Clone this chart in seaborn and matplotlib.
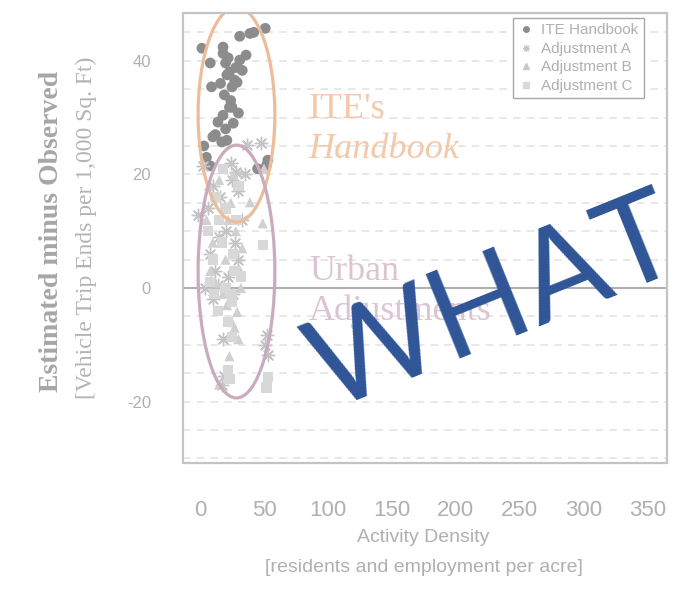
import numpy as np
import pandas as pd
import matplotlib
matplotlib.use("Agg")
import matplotlib.pyplot as plt
import seaborn as sns
from matplotlib.patches import Ellipse, Rectangle
from matplotlib.lines import Line2D

# ---------------------------------------------------
# data
# ---------------------------------------------------
ite_x = [1.5, 8, 9, 18, 18, 20, 21, 23, 25, 27, 29, 31, 33, 31, 39, 42, 51, 25, 23, 18,
         30, 14, 26, 10, 17, 21, 53, 52, 22, 24, 20, 12, 19, 28, 16, 5, 8, 45, 3, 36]
ite_y = [42.2, 39.6, 35.4, 42.4, 41.3, 39.6, 37.5, 38, 35.4, 36.6, 36.2, 40.1, 38.3, 44.3,
         44.8, 45, 45.7, 31.8, 31.8, 30.4, 30.8, 29.2, 29, 26.6, 25.7, 26, 22.5, 21.6, 40.5,
         33, 28, 27, 34, 38.8, 36, 23, 21.5, 21, 25, 41]

adj_a_x = [37, 48, 51, 53, 52, 17, 19, 4, 14, -1.5, 2, 10, 25, 28, 30, 15, 8, 22, 12, 20,
           26, 33, 6, 24, 18, 30, 10, 35, 16, 27]
adj_a_y = [25.2, 25.5, -10, -11.8, -8.3, -17, -15.5, 0, 0.5, 12.8, 21.5, 18, 19, 20.5, 17,
           9, 6, 2, 3, 10, -1, 12, 14, 22, -9, 5, -2, 20, 16, 8]

adj_b_x = [49, 39, 31, 29, 25, 27, 50, 10, 20, 22, 15, 5, 28, 18, 24, 32, 12, 26, 8, 21,
           30, 15, 33, 7, 23]
adj_b_y = [11.4, 15.1, 3.2, -4.2, -6, -7, 21, 8, 5, 12, 19, 12, 10, -1, 15, 0, 1, 20, 3,
           -3, -9, -17, 7, 18, -12]

adj_c_x = [49, 53, 25, 22, 25, 23, 52, 10, 15, 20, 27, 17, 30, 12, 22, 8, 18, 28, 24, 14,
           32, 20, 6, 26, 11]
adj_c_y = [7.6, -15.7, -8.6, -14.4, -2.5, -16, -17.5, 5, 12, 0, 3, 8, 18, 16, -6, 1, 21, 12,
           -1, -4, 2, 14, 10, 6, -1]

series_labels = ["ITE Handbook", "Adjustment A", "Adjustment B", "Adjustment C"]
x_ticks = [0, 50, 100, 150, 200, 250, 300, 350]
y_ticks = [-20, 0, 20, 40]

# ---------------------------------------------------
# figure
# ---------------------------------------------------
sns.set_style("white")
plt.rcParams['font.family'] = ['Liberation Sans', 'DejaVu Sans']

fig = plt.figure(figsize=(6.91, 5.92), dpi=100)
fig.patch.set_facecolor("white")
ax = fig.add_axes([183 / 691, 129 / 592, 484 / 691, 450 / 592])

# dashed horizontal grid + zero line
for gy in np.arange(-30, 46, 5):
    ax.axhline(gy, color="#e2e2e2", lw=1.1, ls=(0, (5, 4)), zorder=0)
ax.axhline(0, color="#b0b0b0", lw=1.5, zorder=1)

point_styles = [
    (ite_x, ite_y, "o", "#8c8c8c", 60),
    (adj_a_x, adj_a_y, (8, 2, 0), "#c4c4c4", 80),
    (adj_b_x, adj_b_y, "^", "#d0d0d0", 55),
    (adj_c_x, adj_c_y, "s", "#d8d8d8", 55),
]
for xs, ys, mk, col, size in point_styles:
    if mk == (8, 2, 0):
        sns.scatterplot(x=xs, y=ys, ax=ax, marker=mk, color=col, s=size,
                        linewidth=1.0, legend=False, zorder=2)
    else:
        sns.scatterplot(x=xs, y=ys, ax=ax, marker=mk, color=col, s=size,
                        edgecolor="none", legend=False, zorder=2)

# highlight ellipses
ax.add_patch(Ellipse((28.5, 30.5), 60, 37.8, fill=False, ec="#ebbd9a", lw=2.3, zorder=3))
ax.add_patch(Ellipse((28.5, 2.9), 60, 44.5, fill=False, ec="#c9abbb", lw=2.3, zorder=3))

ax.text(85, 30, "ITE's", family="Liberation Serif", fontsize=26, color="#f3c9a9")
ax.text(85, 22.9, "Handbook", family="Liberation Serif", style="italic",
        fontsize=26, color="#f3c9a9")
ax.text(85, 1.4, "Urban", family="Liberation Serif", fontsize=26, color="#dcc4d0")
ax.text(85, -5.6, "Adjustments", family="Liberation Serif", fontsize=26, color="#dcc4d0")

ax.set_xlim(-13.3, 365)
ax.set_ylim(-30.8, 48.4)
ax.set_xticks(x_ticks)
ax.set_yticks(y_ticks)
ax.set_yticklabels([str(v) for v in y_ticks], rotation=90, va="center")

for side in ["left", "bottom"]:
    ax.spines[side].set_position(("outward", 3))
for s in ax.spines.values():
    s.set_visible(False)
ax.add_patch(Rectangle((0, 0), 1, 1, transform=ax.transAxes, fill=False,
                       ec="#c4c4c4", lw=1.6, clip_on=False, zorder=5))

ax.tick_params(axis="both", direction="out", length=8, width=1.1, color="#bcbcbc",
               labelcolor="#b0b0b0")
ax.tick_params(axis="x", labelsize=16, pad=16)
ax.tick_params(axis="y", labelsize=12, pad=12)
ax.set_xlabel("")
ax.set_ylabel("")

# legend
handles = [
    Line2D([], [], ls="", marker="o", color="#8c8c8c", markersize=4),
    Line2D([], [], ls="", marker=(8, 2, 0), color="#c4c4c4", markersize=5, mew=0.8),
    Line2D([], [], ls="", marker="^", color="#c8c8c8", markersize=4),
    Line2D([], [], ls="", marker="s", color="#d8d8d8", markersize=4),
]
leg = ax.legend(handles, series_labels, loc="upper right", bbox_to_anchor=(0.952, 0.989),
                fontsize=11, labelcolor="#b0b0b0", frameon=True, fancybox=False,
                framealpha=1, edgecolor="#a8a8a8", handlelength=1.0, handletextpad=0.5,
                borderpad=0.35, labelspacing=0.3, borderaxespad=0)
leg.get_frame().set_linewidth(1.0)
leg.set_zorder(6)

# axis titles
fig.text(423 / 691, 1 - 537 / 592, "Activity Density", ha="center", va="center",
         fontsize=14, color="#b0b0b0")
fig.text(424 / 691, 1 - 568 / 592, "[residents and employment per acre]", ha="center",
         va="center", fontsize=14, color="#b0b0b0")
fig.text(52 / 691, 1 - 231 / 592, "Estimated minus Observed", rotation=90, ha="center",
         va="center", family="Liberation Serif", weight="bold", fontsize=20, color="#a6a6a6")
fig.text(86 / 691, 1 - 228 / 592, "[Vehicle Trip Ends per 1,000 Sq. Ft)", rotation=90,
         ha="center", va="center", family="Liberation Serif", fontsize=17, color="#b4b4b4")

# overlay word
fig.text(0.716, 0.484, "WHAT", rotation=22, rotation_mode="anchor", ha="center",
         va="center", family="Lato", fontsize=91, color="#2f5597", zorder=10)

fig.savefig("out.png", dpi=100)
